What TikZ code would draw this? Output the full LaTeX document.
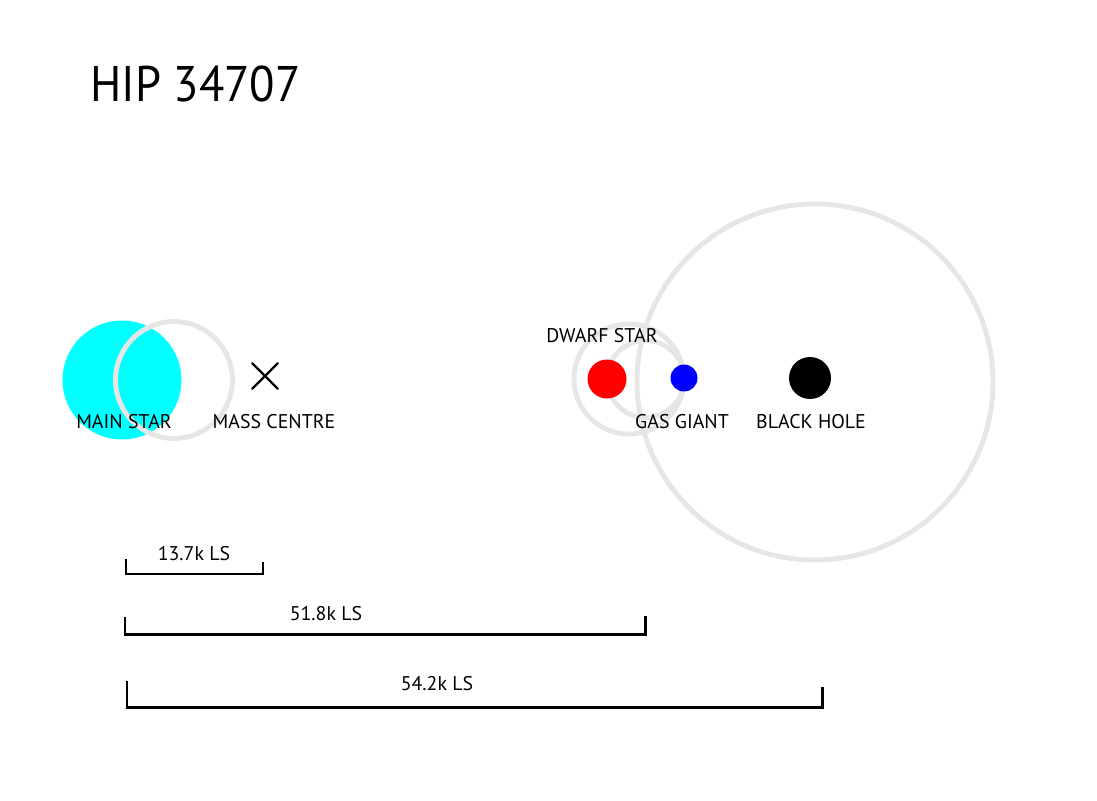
\documentclass[tikz,border=0pt]{standalone}
\usepackage{fontspec}
\setmainfont{PT Sans}
\usetikzlibrary{positioning,shapes.misc}
\definecolor{orbitgray}{HTML}{E6E6E6}
\definecolor{starcyan}{HTML}{00FFFF}
\tikzset{
  every picture/.style={
    line cap=round
  },
  orbit/.style={
    draw=orbitgray, line width=2.8pt
  },
  body/.style={
    circle, fill, inner sep=0pt
  },
  tag/.style={
    font=\fontsize{11.3}{13}\selectfont, inner sep=0pt
  },
  bar/.style={
    line width=1.7pt, line cap=butt, line join=miter
  }
}
\begin{document}
\begin{tikzpicture}[x=0.02cm, y=-0.02cm]
  \useasboundingbox (0,0) rectangle (1097,800);
  \node (title) [anchor=base west, inner sep=0pt, xscale=0.93, font=\fontsize{28.5}{34}\selectfont] at (90,102) {HIP 34707};

  % main star and its orbit
  \node[body, fill=starcyan, minimum size=2.38cm] (mainstar) at (122,380) {};
  \draw[orbit] (174,380) circle (58.5);
  \node[cross out, draw, line width=1.4pt, minimum size=0.46cm] (masscentre) at (265,376) {};
  \node[tag] (mainlbl) at (124,422) {MAIN STAR};
  \node[tag] (masslbl) at (274,422) {MASS CENTRE};

  % the far pair and the black hole
  \draw[orbit] (815,382) circle (178);
  \draw[orbit] (629,379) circle (55);
  \draw[orbit] (645.5,379) circle (38.5);
  \node[body, fill=red, minimum size=0.78cm] (dwarf) at (607,379) {};
  \node[body, fill=blue, minimum size=0.54cm] (giant) at (684,378) {};
  \node[body, fill=black, minimum size=0.84cm] (hole) at (810,378) {};
  \node[tag] (dwarflbl) at (602,336) {DWARF STAR};
  \node[tag] (giantlbl) at (682,422) {GAS GIANT};
  \node[tag] (holelbl) at (811,422) {BLACK HOLE};

  % scale bars
  \coordinate (s1l) at (126,559);
  \coordinate (s1r) at (263,574);
  \draw[bar] (s1l) |- (s1r) -- ++(0,-12);
  \node[tag] (s1lbl) at (194,554) {13.7k LS};
  \coordinate (s2l) at (125,617);
  \coordinate (s2r) at (645,634);
  \draw[bar] (s2l) |- (s2r) -- ++(0,-18);
  \node[tag] (s2lbl) at (326,614) {51.8k LS};
  \coordinate (s3l) at (127,681);
  \coordinate (s3r) at (822,707);
  \draw[bar] (s3l) |- (s3r) -- ++(0,-20);
  \node[tag] (s3lbl) at (437,684) {54.2k LS};
\end{tikzpicture}
\end{document}
